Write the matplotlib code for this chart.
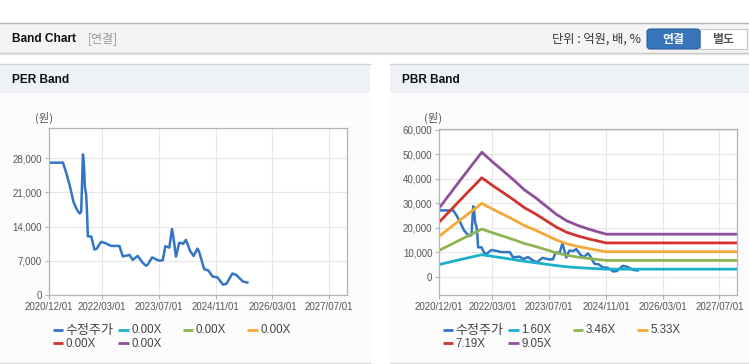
import numpy as np
import pandas as pd
import matplotlib
matplotlib.use("Agg")
import matplotlib.pyplot as plt
import matplotlib.dates as mdates
from matplotlib.patches import Rectangle, FancyBboxPatch

# adjusted close price (수정주가)
price_dates = ["2020-12-01", "2021-03-31", "2021-04-28", "2021-05-27", "2021-06-30",
               "2021-07-28", "2021-08-20", "2021-09-03", "2021-09-18", "2021-09-26",
               "2021-10-05", "2021-10-16", "2021-10-25", "2021-10-30", "2021-11-28",
               "2021-12-26", "2022-01-15", "2022-02-21", "2022-03-31", "2022-05-18",
               "2022-07-28", "2022-08-26", "2022-10-22", "2022-11-19", "2023-01-01",
               "2023-02-13", "2023-03-13", "2023-03-27", "2023-05-04", "2023-06-30",
               "2023-08-03", "2023-08-26", "2023-09-29", "2023-10-22", "2023-11-02",
               "2023-11-25", "2023-12-23", "2024-01-26", "2024-02-18", "2024-03-26",
               "2024-04-24", "2024-05-28", "2024-06-11", "2024-07-24", "2024-08-30",
               "2024-10-03", "2024-11-15", "2025-01-02", "2025-01-31", "2025-03-23",
               "2025-04-26", "2025-06-22", "2025-07-29"]
price = [27100, 27100, 25000, 22500, 19000,
         17500, 16700, 17000, 28800, 27000,
         22000, 20500, 16000, 12000, 12000,
         9300, 9500, 10900, 10600, 10050,
         10050, 7900, 8200, 7200, 8000,
         6600, 6000, 6200, 7700, 7050,
         7100, 10000, 9700, 13500, 12000,
         7850, 10700, 10500, 11300, 9000,
         8000, 9500, 8800, 5300, 5000,
         3800, 3600, 2100, 2300, 4400,
         4100, 2750, 2550]

# PBR band lines
band_dates = ["2020-12-01", "2021-03-01", "2021-06-01", "2021-09-01", "2021-12-01",
              "2022-03-01", "2022-06-01", "2022-09-01", "2022-12-01", "2023-03-01",
              "2023-06-01", "2023-09-01", "2023-12-01", "2024-03-01", "2024-06-01",
              "2024-09-01", "2024-11-01", "2027-12-01"]
pbr_160 = [4980, 5980, 7000, 8010, 9000, 8310, 7660, 6980, 6280, 5750,
           5130, 4510, 4030, 3710, 3450, 3220, 3070, 3070]
pbr_346 = [10760, 12920, 15140, 17320, 19460, 17970, 16560, 15100, 13570, 12420,
           11090, 9750, 8720, 8030, 7460, 6960, 6640, 6640]
pbr_533 = [16580, 19910, 23320, 26680, 29980, 27680, 25500, 23270, 20910, 19140,
           17080, 15020, 13430, 12370, 11490, 10720, 10230, 10230]
pbr_719 = [22360, 26850, 31460, 35990, 40440, 37340, 34400, 31380, 28210, 25820,
           23040, 20260, 18110, 16680, 15500, 14460, 13800, 13800]
pbr_905 = [28150, 33800, 39600, 45300, 50900, 47000, 43300, 39500, 35500, 32500,
           29000, 25500, 22800, 21000, 19500, 18200, 17380, 17380]

per_labels = ["0.00X", "0.00X", "0.00X", "0.00X", "0.00X"]
pbr_labels = ["1.60X", "3.46X", "5.33X", "7.19X", "9.05X"]
band_colors = ["#1bb1cb", "#8db553", "#f4a937", "#d2332c", "#8e4f9c"]
price_color = "#3274c6"

x_ticks = ["2020-12-01", "2022-03-01", "2023-07-01", "2024-11-01", "2026-03-01", "2027-07-01"]
per_yticks = [0, 7000, 14000, 21000, 28000]
pbr_yticks = [0, 10000, 20000, 30000, 40000, 50000, 60000]

KR = ["Noto Sans CJK KR", "DejaVu Sans"]
LAT = ["Liberation Sans", "DejaVu Sans"]

W, H = 749, 364
fig = plt.figure(figsize=(W / 100, H / 100), dpi=100)
fig.patch.set_facecolor("white")

# page furniture in pixel coordinates
bg = fig.add_axes([0, 0, 1, 1], zorder=0)
bg.set_xlim(0, W)
bg.set_ylim(H, 0)
bg.axis("off")

bg.add_patch(Rectangle((0, 22.5), W, 30, facecolor="#f4f4f4", edgecolor="none"))
bg.plot([0, W], [22.5, 22.5], color="#b5b5b5", lw=1)
bg.plot([0, W], [52.5, 52.5], color="#c4c4c4", lw=1)
bg.plot([0, W], [53.5, 53.5], color="#e4e4e4", lw=1)
bg.text(12, 38.5, "Band Chart", fontsize=8.6, fontweight="bold", color="#111111",
        family=LAT, va="center")
bg.text(88, 38.5, "[연결]", fontsize=8.6, color="#999999", family=KR, va="center")
bg.text(552, 39, "단위 : 억원, 배, %", fontsize=8.8, color="#333333", family=KR, va="center")
bg.add_patch(Rectangle((700, 29), 47, 20, facecolor="white", edgecolor="#c6c6c6", lw=0.8))
bg.add_patch(FancyBboxPatch((647, 29), 53, 20, boxstyle="round,pad=0,rounding_size=3",
                            facecolor="#3775ba", edgecolor="#2b609f", lw=0.8))
bg.text(673.5, 39, "연결", fontsize=8.6, color="white", fontweight="bold", family=KR,
        ha="center", va="center")
bg.text(723, 39, "별도", fontsize=8.6, color="#555555", fontweight="bold", family=KR,
        ha="center", va="center")

for x0, x1, title in [(0, 370, "PER Band"), (390, W, "PBR Band")]:
    bg.add_patch(Rectangle((x0, 64), x1 - x0, 29, facecolor="#eef2f7", edgecolor="none"))
    bg.add_patch(Rectangle((x0, 93), x1 - x0, 269, facecolor="#fcfcfc", edgecolor="none"))
    bg.plot([x0, x1], [64, 64], color="#d2d2d2", lw=1)
    bg.plot([x0, x1], [362.5, 362.5], color="#dadada", lw=1)
    bg.text(x0 + 12, 80, title, fontsize=8.6, fontweight="bold", color="#111111",
            family=LAT, va="center")


def legend(x_off, labels):
    cols = [52.7, 118, 182.7, 247.3]
    names = ["수정주가"] + labels
    colors = [price_color] + band_colors
    for i, (nm, c) in enumerate(zip(names, colors)):
        r, k = divmod(i, 4)
        x = x_off + cols[k]
        y = 330 + r * 13.3
        bg.plot([x, x + 10.5], [y, y], color=c, lw=2, solid_capstyle="butt")
        bg.text(x + 13, y + 0.3, nm, fontsize=9.4 if i == 0 else 8.3, color="#444444",
                family=KR if i == 0 else LAT, va="center")


def style(ax, yticks, ylim):
    ax.set_facecolor("white")
    ax.set_xlim(pd.Timestamp("2020-12-01"), pd.Timestamp("2027-12-01"))
    ax.set_ylim(*ylim)
    ax.set_yticks(yticks)
    ax.set_yticklabels([f"{v:,}" for v in yticks])
    xt = pd.to_datetime(x_ticks)
    ax.set_xticks(xt)
    ax.set_xticklabels([d.strftime("%Y/%m/%d") for d in xt])
    ax.grid(True, color="#e6e6e6", lw=0.8)
    ax.set_axisbelow(True)
    for s in ax.spines.values():
        s.set_color("#b4b4b4")
        s.set_linewidth(0.9)
    ax.tick_params(length=3, width=0.8, color="#b4b4b4", labelsize=7,
                   labelcolor="#555555", pad=2)
    for lab in ax.get_xticklabels() + ax.get_yticklabels():
        lab.set_family(LAT)


pdates = pd.to_datetime(price_dates)
bdates = pd.to_datetime(band_dates)

ax1 = fig.add_axes([49 / W, (H - 295) / H, (347 - 49) / W, (295 - 128) / H], zorder=2)
style(ax1, per_yticks, (0, 34200))
ax1.plot(pdates, price, color=price_color, lw=1.8)
bg.text(35, 117.5, "(원)", fontsize=8.2, color="#555555", family=KR, va="center")
legend(0, per_labels)

ax2 = fig.add_axes([439.3 / W, (H - 295) / H, (737.3 - 439.3) / W, (295 - 129) / H], zorder=2)
style(ax2, pbr_yticks, (-7500, 60400))
ax2.plot(pdates, price, color=price_color, lw=1.8)
for vals, c in zip([pbr_160, pbr_346, pbr_533, pbr_719, pbr_905], band_colors):
    ax2.plot(bdates, vals, color=c, lw=2)
bg.text(424, 118, "(원)", fontsize=8.2, color="#555555", family=KR, va="center")
legend(390, pbr_labels)

fig.savefig("out.png", dpi=100, facecolor=fig.get_facecolor())
